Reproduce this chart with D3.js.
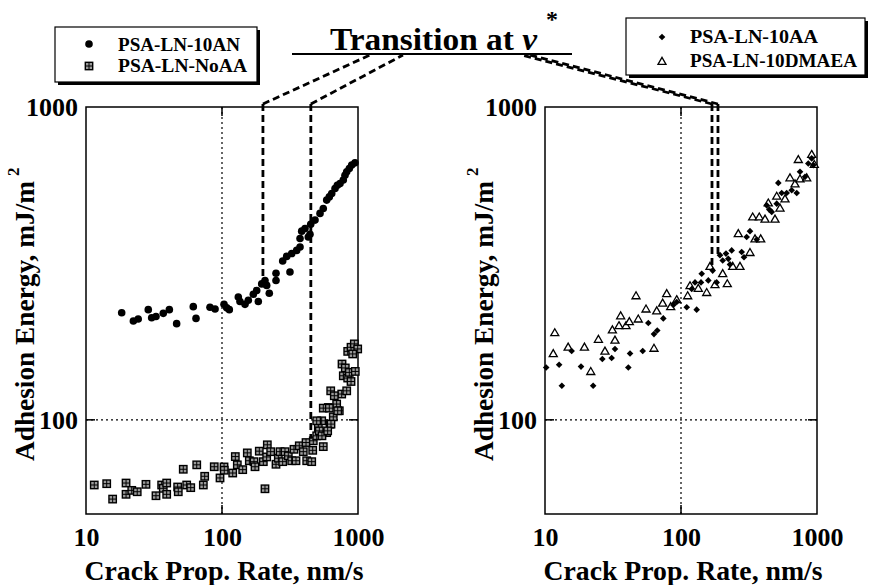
<!DOCTYPE html>
<html>
<head>
<meta charset="utf-8">
<script src="https://cdn.jsdelivr.net/npm/d3@7"></script>
<style>
  body { margin: 0; background: #fff; }
  svg { display: block; }
  text { font-family: "Liberation Serif", "Times New Roman", serif; font-weight: bold; }
</style>
</head>
<body>
<svg id="chart" width="871" height="585"></svg>
<script>
// ---- data (crack rate nm/s, adhesion energy mJ/m^2) ----
const rateAN = [18.3, 22.3, 24.2, 28.7, 30.4, 32.7, 37, 41, 46.4, 61.5, 64.4, 81.6, 88.9, 103.5, 108.3, 113.2,
  131.8, 135.6, 147.6, 156.1, 169.9, 180, 184.9, 195.9, 207, 213.1, 222.7, 249.5, 249.5, 279.4, 299, 316,
  325.5, 354, 374.7, 374.7, 385.5, 407.5, 431, 443.6, 448.9, 483, 525.6, 555.5, 588.5, 615, 640.8, 677.6,
  704.4, 737.5, 779.6, 802.3, 826, 863, 899, 950];
const energyAN = [220, 207, 210, 225, 212, 214, 219, 225, 203, 230, 211, 229, 226, 234, 228, 225,
  247, 239, 234, 241, 252, 259, 239, 272, 279, 269, 254, 294, 279, 322, 333, 297,
  340, 348, 357, 380, 401, 409, 384, 392, 422, 435, 457, 474, 504, 516, 529, 549,
  562, 569, 584, 605, 621, 636, 652, 663];

const rateNoAA = [11.5, 14.2, 15.7, 19.7, 19.7, 21.7, 23.8, 27.6, 32.7, 36, 37, 39.2, 39.2, 47.2, 47.7, 55,
  58.9, 51.9, 65.2, 72.9, 74.6, 87.7, 96.7, 103.5, 103.9, 119.9, 125.3, 129.6, 142, 153.5, 158.8, 171.9,
  174.9, 188, 207, 201.3, 215.4, 213.1, 228, 249.5, 259.4, 266.9, 279.4, 290.5, 307.3, 325.5, 338.2, 350,
  370, 396, 414.8, 419.6, 456.7, 464.5, 469, 497, 510.7, 540.8, 555.5, 588.5, 604.9, 622.3, 658, 696.8,
  728.7, 759, 826, 630, 669.4, 555.5, 615, 709.5, 762.9, 806.5, 779.6, 840, 888.6, 863, 955, 840,
  888.6, 939.7, 995, 914, 497, 519.4, 543.3, 633, 598.5];
const energyNoAA = [61.9, 62.5, 55.8, 62.8, 57.8, 59.5, 58.9, 62.2, 57.2, 61.9, 60.4, 57.8, 62.8, 61, 58.9, 61.9,
  60.7, 69.5, 71.8, 61.9, 66, 70.8, 65.2, 70.7, 69, 67.6, 76.3, 71.8, 69.3, 78.4, 74, 73.5,
  70.8, 79.4, 60.2, 73.5, 83.2, 76.1, 79.1, 72.1, 75.4, 79.1, 73.5, 79.1, 76.7, 74, 80.5, 74,
  82.6, 79.1, 84.6, 74, 73.5, 79.9, 85.7, 88.9, 94.5, 99.3, 82.1, 91, 109.5, 96.9, 102.2, 112.3,
  106.9, 120.9, 123.8, 123.8, 119.4, 109, 109, 106.9, 150.8, 146.5, 138.3, 136, 132.6, 141.8, 142.8, 165.5,
  170.6, 174.9, 168.5, 162.4, 99.3, 92.2, 88.9, 96.9, 92.2];

const rate10AA = [10.2, 12.7, 13.3, 15.7, 18.4, 22.6, 26.4, 30.9, 32.7, 41, 42.2, 52.3, 57.5, 63.3, 66.9, 74.1,
  87.8, 93, 110.2, 130.4, 119.9, 126.8, 142, 140.3, 158.8, 171, 183, 193.5, 202.6, 214.2, 222.7, 235.9,
  229.2, 279.4, 290.5, 304, 321.5, 360.4, 426.8, 445.9, 464.5, 505.6, 519.4, 550, 598.5, 651.6, 709.5, 750,
  816.3, 863, 939.7, 914];
const energy10AA = [147, 150, 128.5, 166, 148, 128.5, 156.5, 157.7, 168.5, 147, 163, 166, 204, 188, 193, 211,
  233, 238, 229, 225, 262, 275, 293, 275, 279, 300, 275, 336, 323, 340, 327, 348,
  314, 344, 331, 384, 401, 377, 485, 470, 462, 491, 572, 531, 531, 542, 531, 621,
  598, 660, 652, 685];

const rateDMAEA = [11.8, 11.5, 14.8, 19.5, 21.7, 24.7, 27.6, 31.3, 32.7, 35, 36, 39.4, 41.7, 46.7, 48.5, 55.3,
  63.3, 66.3, 73.3, 78.5, 84, 93, 112, 134, 154.5, 163.4, 177.8, 202.6, 219, 240, 271.5, 263.8,
  321.5, 350, 385.5, 336.6, 376.4, 414.8, 438.5, 491, 534.6, 505.6, 581.8, 633, 689, 728.7, 750, 840,
  914, 955, 116.5];
const energyDMAEA = [189, 162, 170, 170, 142, 180, 165, 193, 179, 199, 214, 199, 205, 248, 209, 225,
  168.5, 222, 235, 252, 229, 241, 248, 262, 254, 308, 269, 292, 271, 308, 308, 392,
  341, 377, 377, 443, 443, 436, 491, 436, 473, 516, 506, 591, 565, 676, 586, 591,
  702, 652, 267];

// transition markers: crack rate at v*, energy where the dashed line stops
const transLeftRate = [200, 450];
const transLeftEnd = [285, 87];
const transRightRate = [169, 187];
const transRightEnd = [307, 330];

const xTicks = [10, 100, 1000];
const yTicks = [100, 1000];

const svg = d3.select('#chart');
svg.append('rect').attr('width', 871).attr('height', 585).attr('fill', '#fff');

const plotTop = 107, plotBottom = 514;
const y = d3.scaleLog().domain([50, 1000]).range([plotBottom, plotTop]);
const xL = d3.scaleLog().domain([10, 1000]).range([86, 358]);
const xR = d3.scaleLog().domain([10, 1000]).range([545, 817]);

// marker painters
const circleMark = (g) => g.append('circle').attr('r', 3.8).attr('fill', '#000');
const squareMark = (g) => {
  g.append('rect').attr('x', -3.7).attr('y', -3.7).attr('width', 7.4).attr('height', 7.4)
    .attr('fill', '#999').attr('stroke', '#000').attr('stroke-width', 1.4);
  g.append('path').attr('d', 'M-3.7,0H3.7M0,-3.7V3.7').attr('stroke', '#000').attr('stroke-width', 1);
};
const diamondMark = (g) => g.append('path')
  .attr('d', d3.symbol().type(d3.symbolSquare).size(22)())
  .attr('transform', 'rotate(45)')
  .attr('fill', '#000');
const triMark = (g) => g.append('path')
  .attr('d', d3.symbol().type(d3.symbolTriangle).size(28)())
  .attr('fill', '#fff').attr('stroke', '#000').attr('stroke-width', 1.3);

function drawPanel(x, series, titleX) {
  const [x0, x1] = x.range();
  const g = svg.append('g');

  // dotted grid at 100
  g.append('line').attr('x1', x(100)).attr('x2', x(100)).attr('y1', plotTop).attr('y2', plotBottom)
    .attr('stroke', '#000').attr('stroke-width', 1.2).attr('stroke-dasharray', '2,3');
  g.append('line').attr('x1', x0).attr('x2', x1).attr('y1', y(100)).attr('y2', y(100))
    .attr('stroke', '#000').attr('stroke-width', 1.2).attr('stroke-dasharray', '2,3');

  // inner ticks
  const t = 9;
  [[x(100), plotBottom, x(100), plotBottom - t], [x(100), plotTop, x(100), plotTop + t],
   [x0, y(100), x0 + t, y(100)], [x1, y(100), x1 - t, y(100)]].forEach(d => {
    g.append('line').attr('x1', d[0]).attr('y1', d[1]).attr('x2', d[2]).attr('y2', d[3])
      .attr('stroke', '#000').attr('stroke-width', 1.5);
  });

  g.append('rect').attr('x', x0).attr('y', plotTop).attr('width', x1 - x0).attr('height', plotBottom - plotTop)
    .attr('fill', 'none').attr('stroke', '#000').attr('stroke-width', 1.5);

  // points
  series.forEach(s => {
    g.append('g').selectAll('g')
      .data(s.rate.map((r, i) => ({ r, e: s.energy[i] })))
      .join('g')
      .attr('transform', d => `translate(${x(d.r)},${y(d.e)})`)
      .each(function () { s.mark(d3.select(this)); });
  });

  // axes
  const ax = g.append('g').attr('transform', `translate(0,${plotBottom})`)
    .call(d3.axisBottom(x).tickValues(xTicks).tickSize(0).tickPadding(14).tickFormat(d3.format('d')));
  const ay = g.append('g').attr('transform', `translate(${x0},0)`)
    .call(d3.axisLeft(y).tickValues(yTicks).tickSize(0).tickPadding(8).tickFormat(d3.format('d')));
  [ax, ay].forEach(a => {
    a.select('.domain').remove();
    a.attr('font-family', null).attr('font-size', null);
    a.selectAll('text').attr('fill', '#000')
      .style('font-size', '26px')
      .style('font-family', '"Liberation Serif", serif').style('font-weight', 'bold');
  });

  // axis titles
  g.append('text').attr('x', (x0 + x1) / 2 + 2).attr('y', 580).attr('text-anchor', 'middle')
    .attr('font-size', 27).attr('textLength', 279).attr('lengthAdjust', 'spacingAndGlyphs')
    .text('Crack Prop. Rate, nm/s');
  const yt = g.append('g').attr('transform', `translate(${titleX},461) rotate(-90)`);
  yt.append('text').attr('x', 0).attr('y', 0).attr('font-size', 27)
    .attr('textLength', 280).attr('lengthAdjust', 'spacingAndGlyphs').text('Adhesion Energy, mJ/m');
  yt.append('text').attr('x', 285).attr('y', -15).attr('font-size', 17).text('2');
}

drawPanel(xL, [
  { rate: rateNoAA, energy: energyNoAA, mark: squareMark },
  { rate: rateAN, energy: energyAN, mark: circleMark }
], 34);
drawPanel(xR, [
  { rate: rateDMAEA, energy: energyDMAEA, mark: triMark },
  { rate: rate10AA, energy: energy10AA, mark: diamondMark }
], 493);

// ---- title and transition annotation ----
svg.append('text').attr('x', 330).attr('y', 50).attr('font-size', 32)
  .attr('textLength', 207).attr('lengthAdjust', 'spacingAndGlyphs')
  .text('Transition at ').append('tspan').style('font-style', 'italic').text('ν');
svg.append('text').attr('x', 552).attr('y', 27).attr('text-anchor', 'middle').attr('font-size', 24).text('*');
svg.append('line').attr('x1', 292).attr('x2', 572).attr('y1', 54).attr('y2', 54)
  .attr('stroke', '#000').attr('stroke-width', 2);

const dash = (x1, y1, x2, y2) => svg.append('line')
  .attr('x1', x1).attr('y1', y1).attr('x2', x2).attr('y2', y2)
  .attr('stroke', '#000').attr('stroke-width', 2.8).attr('stroke-dasharray', '7,4');

const leftAnchors = [[370, 55], [403, 55]];
const rightAnchors = [[522, 55], [530, 55]];
transLeftRate.forEach((r, i) => {
  dash(xL(r), plotTop - 3, xL(r), y(transLeftEnd[i]));
  dash(xL(r), plotTop - 3, leftAnchors[i][0], leftAnchors[i][1]);
});
transRightRate.forEach((r, i) => {
  dash(xR(r), plotTop - 3, xR(r), y(transRightEnd[i]));
  dash(xR(r), plotTop - 3, rightAnchors[i][0], rightAnchors[i][1]);
});

// ---- legends ----
function legend(x0, y0, w, h, rows) {
  const g = svg.append('g');
  g.append('rect').attr('x', x0 + 3).attr('y', y0 + 3).attr('width', w).attr('height', h).attr('fill', '#000');
  g.append('rect').attr('x', x0).attr('y', y0).attr('width', w).attr('height', h)
    .attr('fill', '#fff').attr('stroke', '#000').attr('stroke-width', 1.2);
  rows.forEach(r => {
    r.mark(g.append('g').attr('transform', `translate(${r.mx},${r.my})`));
    g.append('text').attr('x', r.tx).attr('y', r.ty).attr('font-size', 18)
      .attr('textLength', r.len).attr('lengthAdjust', 'spacingAndGlyphs').text(r.label);
  });
}
legend(55, 27, 202, 55, [
  { label: 'PSA-LN-10AN', mark: circleMark, mx: 89, my: 44, tx: 118, ty: 51, len: 122 },
  { label: 'PSA-LN-NoAA', mark: squareMark, mx: 89, my: 66, tx: 118, ty: 72, len: 129 }
]);
legend(626, 18, 239, 57, [
  { label: 'PSA-LN-10AA', mark: diamondMark, mx: 662, my: 37, tx: 690, ty: 43, len: 128 },
  { label: 'PSA-LN-10DMAEA', mark: triMark, mx: 662, my: 62, tx: 690, ty: 67, len: 167 }
]);
</script>
</body>
</html>
